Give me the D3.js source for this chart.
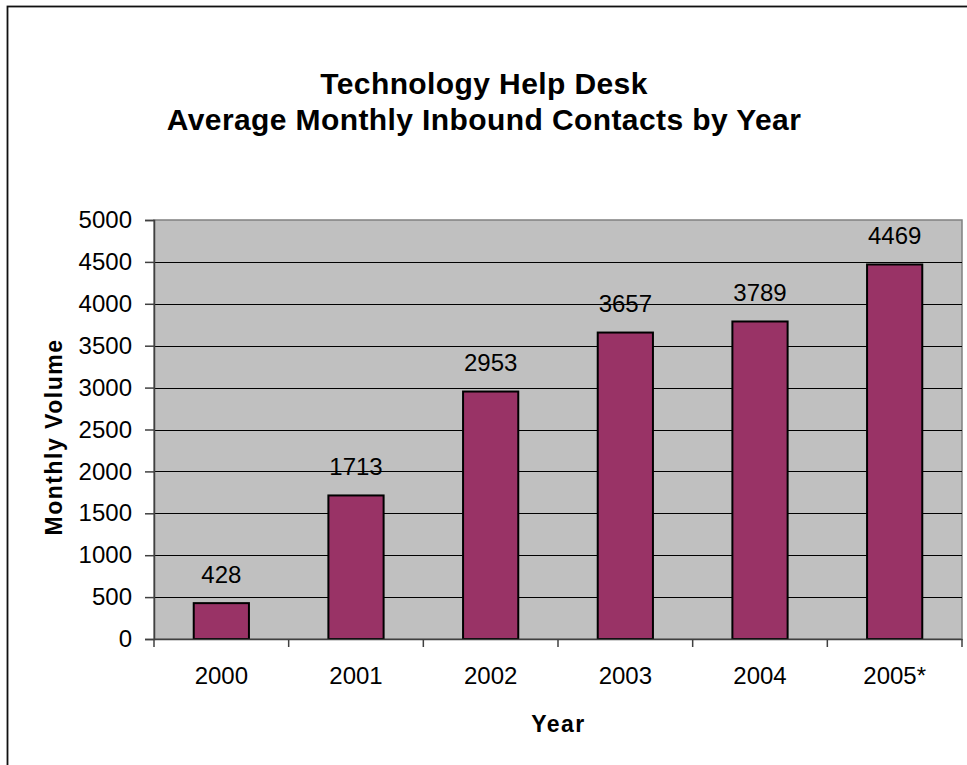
<!DOCTYPE html>
<html>
<head>
<meta charset="utf-8">
<script src="https://cdn.jsdelivr.net/npm/d3@7"></script>
<style>
  html, body { margin: 0; padding: 0; background: #fff; }
  svg { display: block; }
</style>
</head>
<body>
<svg id="chart" width="967" height="765"></svg>
<script>
// Yearly averages of inbound help-desk contacts
const years = ["2000", "2001", "2002", "2003", "2004", "2005*"];
const volumes = [428, 1713, 2953, 3657, 3789, 4469];
const yTicks = [0, 500, 1000, 1500, 2000, 2500, 3000, 3500, 4000, 4500, 5000];
const titleLines = ["Technology Help Desk", "Average Monthly Inbound Contacts by Year"];

const svg = d3.select("#chart");
const font = "'Liberation Sans', Arial, sans-serif";

// outer chart frame
svg.append("rect")
  .attr("x", 7.5).attr("y", 6.5)
  .attr("width", 1000).attr("height", 800)
  .attr("fill", "#fff").attr("stroke", "#111").attr("stroke-width", 1.8);

const plot = { left: 154, right: 962, top: 220, bottom: 639 };

// one band per year; bars occupy the middle part of each band
const xCat = d3.scaleBand().domain(years).range([plot.left, plot.right]);
const barW = xCat.bandwidth() * 0.41;
const barX = d => xCat(d) + (xCat.bandwidth() - barW) / 2;

const y = d3.scaleLinear().domain([0, 5000]).range([plot.bottom, plot.top]);

// plot background
svg.append("rect")
  .attr("x", plot.left).attr("y", plot.top)
  .attr("width", plot.right - plot.left).attr("height", plot.bottom - plot.top)
  .attr("fill", "#c0c0c0").attr("stroke", "#808080").attr("stroke-width", 1.5);

// horizontal gridlines
svg.append("g")
  .selectAll("line")
  .data(yTicks.filter(t => t > 0 && t < 5000))
  .join("line")
  .attr("x1", plot.left).attr("x2", plot.right)
  .attr("y1", d => Math.round(y(d)) + 0.5).attr("y2", d => Math.round(y(d)) + 0.5)
  .attr("stroke", "#000").attr("stroke-width", 1);

// bars
svg.append("g")
  .selectAll("rect")
  .data(volumes)
  .join("rect")
  .attr("x", (d, i) => barX(years[i]))
  .attr("y", d => y(d))
  .attr("width", barW)
  .attr("height", d => y(0) - y(d))
  .attr("fill", "#993366")
  .attr("stroke", "#000").attr("stroke-width", 2);

// value labels
svg.append("g")
  .selectAll("text")
  .data(volumes)
  .join("text")
  .attr("x", (d, i) => barX(years[i]) + barW / 2)
  .attr("y", d => y(d) - 20.5)
  .attr("text-anchor", "middle")
  .attr("font-family", font).attr("font-size", 24)
  .attr("fill", "#000")
  .text(d => d);

// y axis
const yAxis = svg.append("g")
  .attr("transform", `translate(${plot.left},0)`)
  .call(d3.axisLeft(y).tickValues(yTicks).tickSize(9).tickPadding(13).tickFormat(d3.format("d")));
yAxis.select(".domain").attr("stroke", "#404040").attr("stroke-width", 1.5);
yAxis.selectAll(".tick line").attr("stroke", "#404040").attr("stroke-width", 1.5);
yAxis.selectAll(".tick text")
  .attr("font-family", font).attr("font-size", 24).attr("fill", "#000");

// x axis with ticks on category boundaries
const xAxis = svg.append("g")
  .attr("transform", `translate(0,${plot.bottom})`)
  .call(d3.axisBottom(xCat).tickSize(0).tickPadding(0));
xAxis.select(".domain").attr("stroke", "#404040").attr("stroke-width", 1.5);
xAxis.selectAll(".tick text")
  .attr("dy", null)
  .attr("y", 45)
  .attr("font-family", font).attr("font-size", 24).attr("fill", "#000");
xAxis.append("g")
  .selectAll("line")
  .data(years.map(d => xCat(d)).concat([plot.right]))
  .join("line")
  .attr("x1", d => d).attr("x2", d => d)
  .attr("y1", 0).attr("y2", 8)
  .attr("stroke", "#404040").attr("stroke-width", 1.5);

// title
svg.append("g")
  .selectAll("text")
  .data(titleLines)
  .join("text")
  .attr("x", 484)
  .attr("y", (d, i) => 94 + i * 36)
  .attr("text-anchor", "middle")
  .attr("font-family", font).attr("font-weight", "bold").attr("font-size", 30)
  .attr("letter-spacing", 0.4)
  .attr("fill", "#000")
  .text(d => d);

// axis titles
svg.append("text")
  .attr("x", 558.5)
  .attr("y", 732)
  .attr("text-anchor", "middle")
  .attr("font-family", font).attr("font-weight", "bold").attr("font-size", 23)
  .attr("letter-spacing", 1.5)
  .text("Year");

svg.append("text")
  .attr("transform", "translate(62,437) rotate(-90)")
  .attr("text-anchor", "middle")
  .attr("font-family", font).attr("font-weight", "bold").attr("font-size", 23)
  .attr("letter-spacing", 1.5)
  .text("Monthly Volume");
</script>
</body>
</html>
